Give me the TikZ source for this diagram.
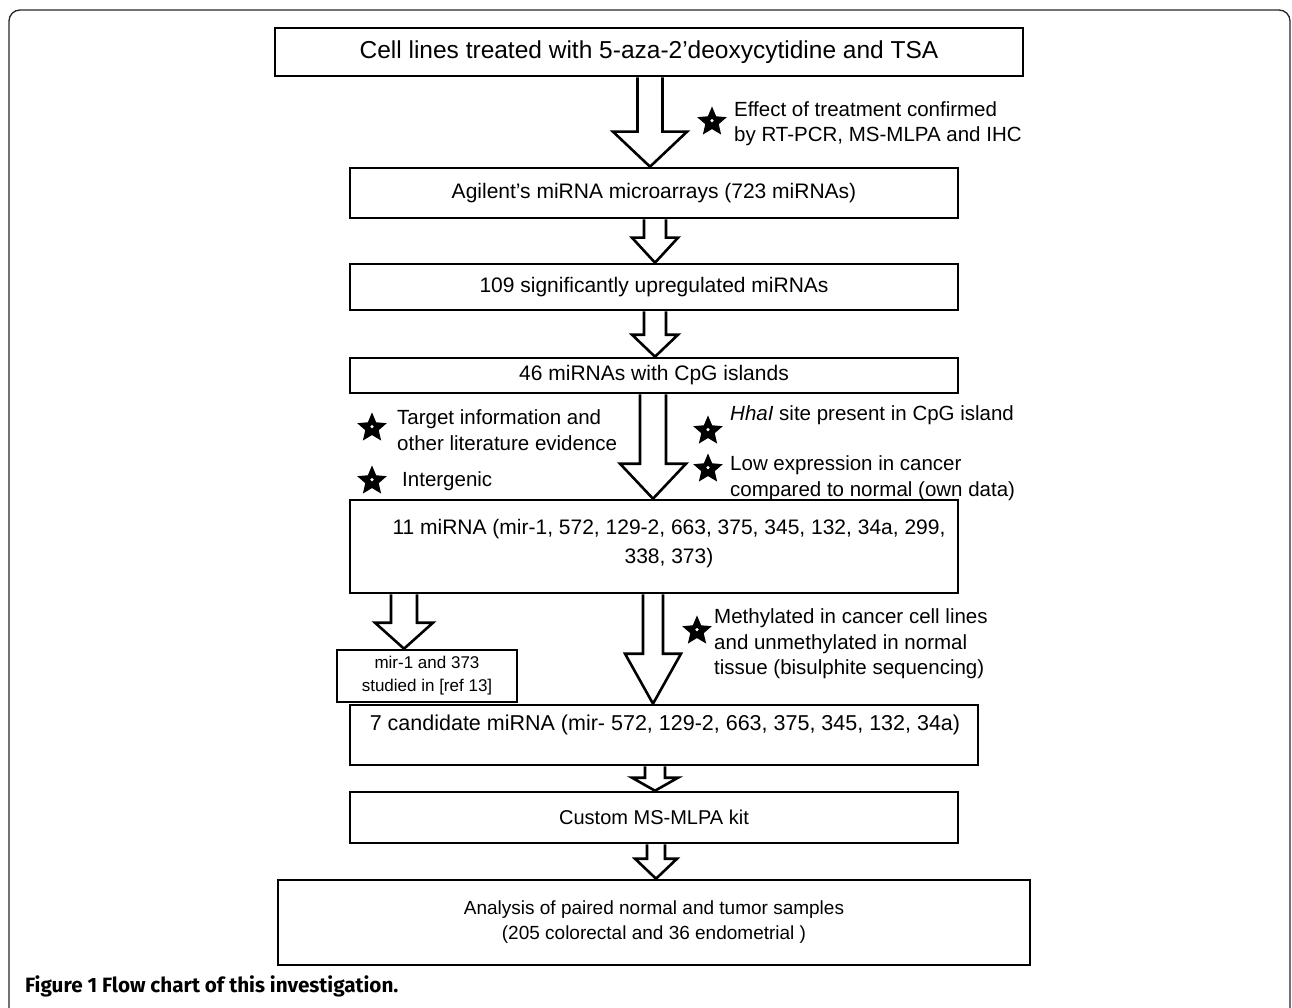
\documentclass[tikz,border=0pt]{standalone}
\usepackage{fontspec}
\setmainfont{Liberation Sans}
\newfontfamily\capfont{Fira Sans}
\usetikzlibrary{shapes.geometric,calc}

\newcommand\hollowarrow[6]{% from, to, x, shaft half, head half, head length
  \draw[blockarrow] let \p1=(#1.south), \p2=(#2.north) in
    ({#3-#4},\y1) -- ({#3-#4},{\y2+#6pt}) -- ({#3-#5},{\y2+#6pt}) -- (#3,\y2)
    -- ({#3+#5},{\y2+#6pt}) -- ({#3+#4},{\y2+#6pt}) -- ({#3+#4},\y1);}

\begin{document}
\begin{tikzpicture}[x=1pt,y=-1pt,
  box/.style={draw, line width=2.6pt, rectangle, inner sep=0pt, align=center},
  blockarrow/.style={draw, line width=2.6pt, fill=white, line join=miter},
  starmark/.style={star, star points=5, star point ratio=2.2, draw, fill=black,
    line width=1.2pt, minimum size=28pt, inner sep=0pt,
    path picture={\fill[white] (path picture bounding box.center) circle (1.8pt);}},
  note/.style={anchor=west, align=left, inner sep=0pt, font=\fontsize{20.5}{25.5}\selectfont},
  boxtext/.style={inner sep=0pt, align=center, font=\fontsize{21}{29}\selectfont},
]
\useasboundingbox (0,0) rectangle (1292,1008);
% outer frame
\draw[line width=1.3pt, draw=black!85, rounded corners=11pt]
  (9,1012) -- (9,10) -- (1290,10) -- (1290,1012);

% boxes
\node[box, minimum width=748pt, minimum height=48pt, font=\fontsize{24.5}{28}\selectfont]
  (b1) at (649,52) {Cell lines treated with 5-aza-2’deoxycytidine and TSA};
\node[box, minimum width=608pt, minimum height=50pt, font=\fontsize{21}{26}\selectfont]
  (b2) at (654,193) {Agilent’s miRNA microarrays (723 miRNAs)};
\node[box, minimum width=608pt, minimum height=46pt, font=\fontsize{21}{26}\selectfont]
  (b3) at (654,287) {109 significantly upregulated miRNAs};
\node[box, minimum width=608pt, minimum height=35pt, font=\fontsize{21}{26}\selectfont]
  (b4) at (654,375.5) {46 miRNAs with CpG islands};
\node[box, minimum width=608pt, minimum height=93pt] (b5) at (654,546.5) {};
\node[boxtext] (t5) at (669,544) {11 miRNA (mir-1, 572, 129-2, 663, 375, 345, 132, 34a, 299,\\338, 373)};
\node[box, minimum width=180pt, minimum height=52pt, font=\fontsize{17}{23}\selectfont]
  (b6) at (427,676) {mir-1 and 373\\studied in [ref 13]};
\node[box, minimum width=628pt, minimum height=60pt] (b7) at (664,735) {};
\node[boxtext, font=\fontsize{21.5}{29}\selectfont] (t7) at (665,725) {7 candidate miRNA (mir- 572, 129-2, 663, 375, 345, 132, 34a)};
\node[box, minimum width=608pt, minimum height=51pt, font=\fontsize{20}{26}\selectfont]
  (b8) at (654,817.5) {Custom MS-MLPA kit};
\node[box, minimum width=752pt, minimum height=85pt, font=\fontsize{19}{25}\selectfont]
  (b9) at (654,922.5) {Analysis of paired normal and tumor samples\\(205 colorectal and 36 endometrial )};

% block arrows
\hollowarrow{b1}{b2}{650}{12.5}{37}{35}
\hollowarrow{b2}{b3}{655}{11}{23}{25}
\hollowarrow{b3}{b4}{655}{11}{23}{22}
\hollowarrow{b4}{b5}{653}{13}{33}{35}
\hollowarrow{b5}{b6}{404}{13}{29}{26}
\hollowarrow{b5}{b7}{653}{10}{28}{50}
\hollowarrow{b7}{b8}{655}{10}{23}{13}
\hollowarrow{b8}{b9}{656}{9}{21}{20}

% annotations
\node[starmark] (s1) at (712,122) {};
\node[note] (n1) at (734,123.5) {Effect of treatment confirmed\\by RT-PCR, MS-MLPA and IHC};
\node[starmark] (s2) at (372,428) {};
\node[note] (n2) at (397,430) {Target information and\\other literature evidence};
\node[starmark] (s3) at (372,481) {};
\node[note] (n3) at (402,481) {Intergenic};
\node[starmark] (s4) at (708,431) {};
\node[note] (n4) at (730,415) {\textit{HhaI} site present in CpG island};
\node[starmark] (s5) at (708,469) {};
\node[note] (n5) at (730,478) {Low expression in cancer\\compared to normal (own data)};
\node[starmark] (s6) at (697,631) {};
\node[note] (n6) at (714,644) {Methylated in cancer cell lines\\and unmethylated in normal\\tissue (bisulphite sequencing)};

% caption
\node[anchor=west, inner sep=0pt, font=\capfont\bfseries\fontsize{20.7}{24}\selectfont]
  (cap) at (25,986) {Figure 1 Flow chart of this investigation.};
\end{tikzpicture}
\end{document}
